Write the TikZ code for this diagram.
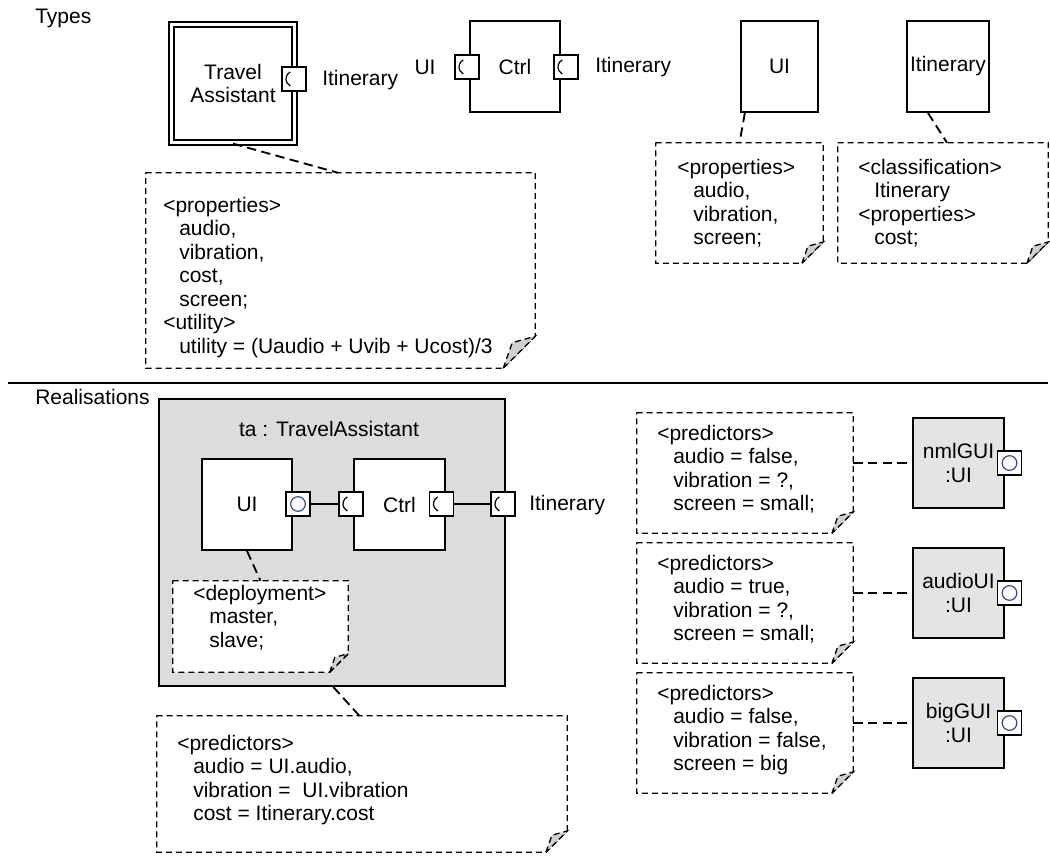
\documentclass[tikz,border=0pt]{standalone}
\usepackage{fontspec}
\setmainfont{Liberation Sans}
\usetikzlibrary{fit}

\definecolor{bigfill}{HTML}{DCDCDC}
\definecolor{instfill}{HTML}{E4E4E4}
\definecolor{curlfill}{HTML}{CFCFCF}
\definecolor{provblue}{HTML}{2F4A8A}

\tikzset{
  every node/.style={font=\fontsize{15.75}{17.6}\selectfont, inner sep=0pt},
  box/.style={draw, line width=1.5pt, fill=white, inner sep=0pt, align=center},
  port/.style={draw, line width=1.2pt, fill=white, minimum size=18pt, inner sep=0pt},
  link/.style={line width=1.4pt, dash pattern=on 7pt off 4pt},
  wire/.style={line width=1.2pt},
  noteline/.style={line width=1pt, dash pattern=on 4.5pt off 3pt},
  notetext/.style={align=left, anchor=north west},
  notearea/.style={inner sep=0pt},
}

% rectangle node given by its corners (in px): name, x1, y1, x2, y2, style, text
\newcommand\cbox[7]{%
  \pgfmathsetmacro\boxw{(#4-#2)*0.75}%
  \pgfmathsetmacro\boxh{(#5-#3)*0.75}%
  \node[box, #6, minimum width=\boxw pt, minimum height=\boxh pt]
    (#1) at ({(#2+#4)/2},{(#3+#5)/2}) {#7};
}
% port with a required interface (socket arc)
\newcommand\reqport[2]{%
  \node[port] (#1) at (#2) {};
  \draw[line width=0.9pt] (#1.center) ++(118:6pt) arc[start angle=118, end angle=242, radius=6pt];
}
% port with a provided interface (ball)
\newcommand\provport[2]{%
  \node[port] (#1) at (#2) {};
  \draw[provblue, line width=0.9pt] (#1.center) circle[radius=5.5pt];
}
% dashed note with a curled corner: name, x1, y1, x2, y2, fold size
\newcommand\notebox[6]{%
  \node[notearea, fit={(#2,#3) (#4,#5)}] (#1) {};
  \draw[noteline, fill=white] (#1.north west) -- (#1.north east)
     -- ([yshift=#6]#1.south east) -- ([xshift=-#6]#1.south east)
     -- (#1.south west) -- cycle;
  \draw[noteline, fill=curlfill] ([xshift=-#6]#1.south east)
     -- ([xshift=-0.72*#6, yshift=0.8*#6]#1.south east)
     -- ([yshift=#6]#1.south east) -- cycle;
}
\newcommand\ind{\hspace*{12pt}}

\begin{document}
\begin{tikzpicture}[x=0.75pt, y=-0.75pt]
\useasboundingbox (0,0) rectangle (1050,863);

% ---------------- Types ----------------
\node[anchor=west] (typeslbl) at (35,18) {Types};

\cbox{ta}{171.5}{24.5}{294.5}{142.5}{double, double distance=2.25pt, line width=1.7pt}{Travel\\Assistant}
\reqport{taport}{294,79}
\node[anchor=west] (taitin) at (322,80) {Itinerary};

\cbox{ctrl}{470}{21}{560}{112}{}{Ctrl}
\reqport{ctrlin}{467,67}
\reqport{ctrlout}{566,67}
\node (ctrlui) at (425,67) {UI};
\node[anchor=west] (ctrlitin) at (595,67) {Itinerary};

\cbox{uitype}{741}{21}{818}{112}{}{UI}
\cbox{ittype}{907}{21}{989}{112}{}{Itinerary}

% notes of the types
\notebox{tanote}{146}{173}{535}{368}{24pt}
\node[notetext] at (163,197) {<properties>\\\ind audio,\\\ind vibration,\\\ind cost,\\\ind screen;\\<utility>\\\ind utility = (Uaudio + Uvib + Ucost)/3};

\notebox{uinote}{656}{143}{823}{263}{16pt}
\node[notetext] at (677,159) {<properties>\\\ind audio,\\\ind vibration,\\\ind screen;};

\notebox{itnote}{838}{143}{1048}{263}{16pt}
\node[notetext] at (858,159) {<classification>\\\ind Itinerary\\<properties>\\\ind cost;};

\draw[link] (ta.south) -- ([xshift=-2pt]tanote.north);
\draw[link] ([xshift=-26pt]uitype.south) -- (uinote.north);
\draw[link] ([xshift=-15pt]ittype.south) -- ([xshift=3pt]itnote.north);

% separator
\draw[line width=1.5pt] (8,383) -- (1048,383);

% ---------------- Realisations ----------------
\node[anchor=west] (reallbl) at (35,397) {Realisations};

\cbox{tabig}{159}{399}{505}{686}{fill=bigfill}{}
\node (tatitle) at (329,429) {ta : TravelAssistant};

\cbox{uiinst}{202}{459}{292}{550}{}{UI}
\cbox{ctrlinst}{354}{459}{445}{550}{}{Ctrl}
\provport{uiport}{298,504}
\reqport{ctrlinport}{351,504}
\reqport{ctrloutport}{441.5,504}
\reqport{bigport}{503,504}
\node[anchor=west] (bigitin) at (529,505) {Itinerary};

\draw[wire] (uiport.east) -- (ctrlinport.west);
\draw[wire] (ctrloutport.east) -- (bigport.west);

\notebox{depnote}{173}{581}{348}{672}{14pt}
\node[notetext] at (193,585) {<deployment>\\\ind master,\\\ind slave;};
\draw[link] (uiinst.south) -- (depnote.north);

\notebox{tapred}{157}{716}{567}{852}{16pt}
\node[notetext] at (177,735) {<predictors>\\\ind audio = UI.audio,\\\ind vibration = \ UI.vibration\\\ind cost = Itinerary.cost};
\draw[link] ([xshift=1pt]tabig.south) -- ([xshift=-2pt]tapred.north);

% instances of UI
\cbox{nml}{913}{418}{1004}{508}{fill=instfill}{nmlGUI\\:UI}
\cbox{aud}{913}{548}{1004}{638}{fill=instfill}{audioUI\\:UI}
\cbox{big}{913}{678}{1004}{768}{fill=instfill}{bigGUI\\:UI}
\provport{nmlport}{1009.5,463}
\provport{audport}{1009.5,593}
\provport{bigpt}{1009.5,723}

\notebox{nmlnote}{637}{413}{853}{533}{16pt}
\node[notetext] at (657,425) {<predictors>\\\ind audio = false,\\\ind vibration = ?,\\\ind screen = small;};
\notebox{audnote}{637}{543}{853}{663}{16pt}
\node[notetext] at (657,555) {<predictors>\\\ind audio = true,\\\ind vibration = ?,\\\ind screen = small;};
\notebox{bignote}{637}{673}{853}{793}{16pt}
\node[notetext] at (657,685) {<predictors>\\\ind audio = false,\\\ind vibration = false,\\\ind screen = big};

\draw[link] (nmlnote.east |- nml.west) -- (nml.west);
\draw[link] (audnote.east |- aud.west) -- (aud.west);
\draw[link] (bignote.east |- big.west) -- (big.west);
\end{tikzpicture}
\end{document}
